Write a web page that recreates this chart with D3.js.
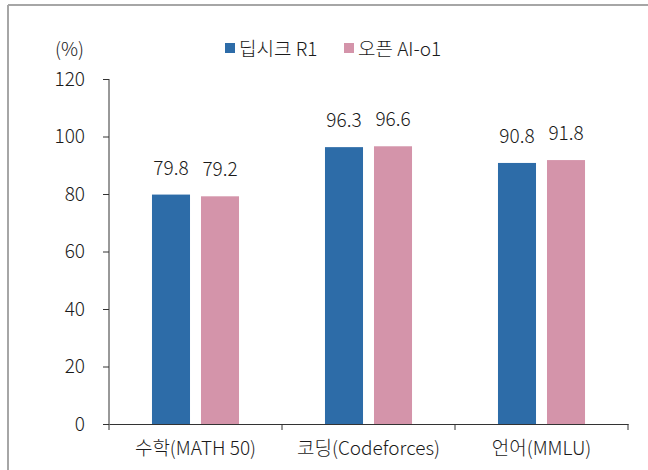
<!DOCTYPE html>
<html>
<head>
<meta charset="utf-8">
<script src="https://cdn.jsdelivr.net/npm/d3@7"></script>
<style>
  body { margin: 0; background: #fff; }
  text { font-family: "Noto Sans CJK KR", "Noto Sans", sans-serif; fill: #1a1a1a; font-weight: 300; }
</style>
</head>
<body>
<svg id="chart" width="648" height="470"></svg>
<script>
// data
const categories = ["수학(MATH 50)", "코딩(Codeforces)", "언어(MMLU)"];
const seriesNames = ["딥시크 R1", "오픈 AI-o1"];
const deepseek = [79.8, 96.3, 90.8];
const openai = [79.2, 96.6, 91.8];
const yTicks = [0, 20, 40, 60, 80, 100, 120];

const colors = ["#2d6ca8", "#d494aa"];
const series = [deepseek, openai];
const fs = "19px";

const svg = d3.select("#chart");

// outer frame (only top and left visible)
svg.append("line").attr("x1", 8).attr("y1", 5).attr("x2", 648).attr("y2", 5)
    .attr("stroke", "#a6a6a6").attr("stroke-width", 2);
svg.append("line").attr("x1", 8).attr("y1", 5).attr("x2", 8).attr("y2", 470)
    .attr("stroke", "#a6a6a6").attr("stroke-width", 2);

let x = d3.scaleBand()
    .domain(categories)
    .range([109, 628])
    .padding(0);

let xs = d3.scaleBand()
    .domain(d3.range(seriesNames.length))
    .range([0, x.bandwidth()])
    .paddingInner(0.224)
    .paddingOuter(0.877);

let y = d3.scaleLinear()
    .domain([0, 120])
    .range([424, 79]);

// y axis
let yAxis = d3.axisLeft(y).tickValues(yTicks).tickSize(6).tickPadding(18);
let gy = svg.append("g").attr("transform", "translate(109,0)").call(yAxis);
gy.select(".domain").attr("stroke", "#333").attr("d", "M0," + y(120) + "V" + y(0));
gy.selectAll(".tick line").attr("stroke", "#333");
gy.selectAll(".tick text").style("font-size", fs).attr("fill", "#1a1a1a");

// bars
categories.forEach(function (c, i) {
    series.forEach(function (s, j) {
        svg.append("rect")
            .attr("x", x(c) + xs(j))
            .attr("y", y(s[i]))
            .attr("width", xs.bandwidth())
            .attr("height", y(0) - y(s[i]))
            .attr("fill", colors[j]);
        svg.append("text")
            .attr("x", x(c) + xs(j) + xs.bandwidth() / 2)
            .attr("y", y(s[i]) - 20)
            .attr("text-anchor", "middle")
            .style("font-size", fs)
            .text(s[i].toFixed(1));
    });
});

// x axis
let xAxis = d3.axisBottom(x).tickSize(0).tickPadding(18);
let gx = svg.append("g").attr("transform", "translate(0,424)").call(xAxis);
gx.select(".domain").attr("stroke", "#333");
gx.selectAll(".tick text").style("font-size", fs).attr("fill", "#1a1a1a");
let seps = categories.map(c => x(c)).concat([x.range()[1]]);
gx.selectAll(".sep").data(seps).enter().append("line")
    .attr("class", "sep")
    .attr("x1", d => d).attr("x2", d => d)
    .attr("y1", 0).attr("y2", 6)
    .attr("stroke", "#333");

// unit label
svg.append("text").attr("x", 55).attr("y", 56)
    .style("font-size", fs).text("(%)");

// legend
let legendX = [225, 344];
seriesNames.forEach(function (n, j) {
    svg.append("rect")
        .attr("x", legendX[j]).attr("y", 43)
        .attr("width", 10).attr("height", 10)
        .attr("fill", colors[j]);
    svg.append("text")
        .attr("x", legendX[j] + 14).attr("y", 56)
        .style("font-size", fs)
        .text(n);
});
</script>
</body>
</html>
